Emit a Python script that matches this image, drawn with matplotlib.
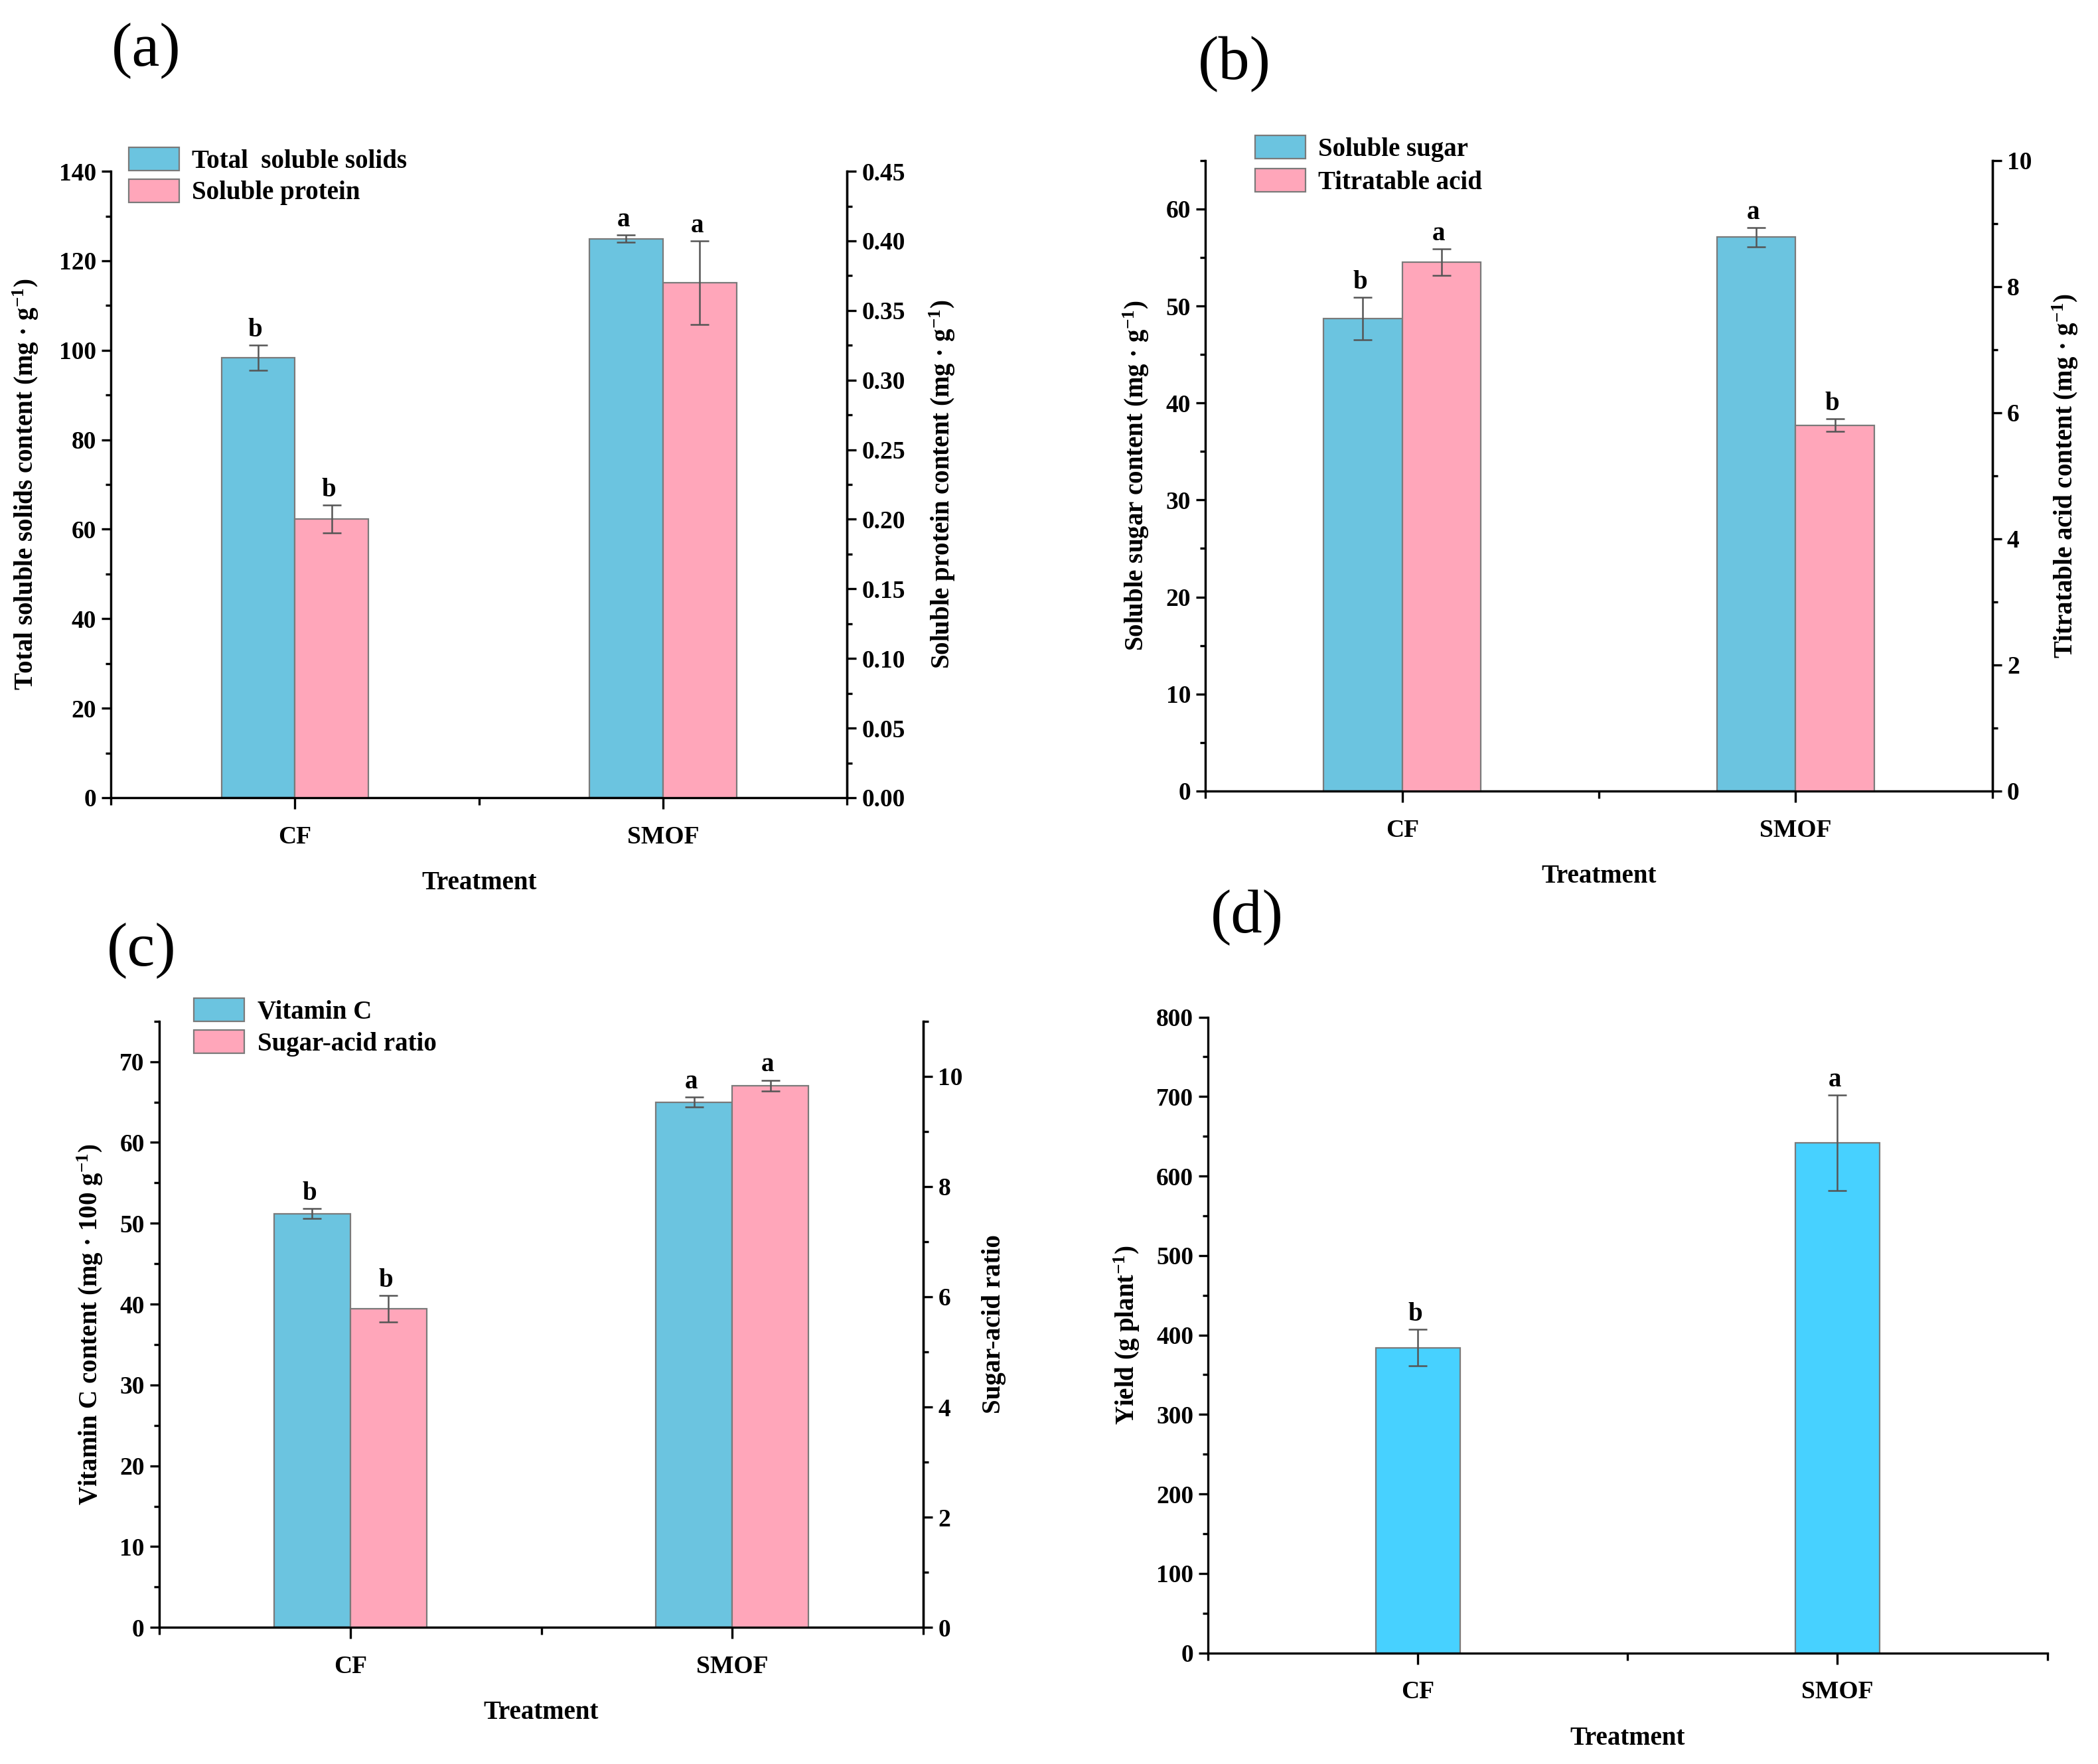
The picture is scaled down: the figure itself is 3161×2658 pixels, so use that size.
import matplotlib
matplotlib.use("Agg")
import matplotlib.pyplot as plt
from matplotlib.ticker import MultipleLocator, FixedLocator
import numpy as np

plt.rcParams['font.family'] = ['Liberation Serif', 'DejaVu Serif']
plt.rcParams['font.weight'] = 'bold'
plt.rcParams['mathtext.fontset'] = 'custom'
plt.rcParams['mathtext.rm'] = 'Liberation Serif:bold'
plt.rcParams['mathtext.bf'] = 'Liberation Serif:bold'
plt.rcParams['mathtext.default'] = 'regular'

# ---------------- data ----------------
treatments = ["CF", "SMOF"]

tss = [98.3, 124.9]
tss_err = [2.8, 0.8]
tss_letters = ["b", "a"]
protein = [0.200, 0.370]
protein_err = [0.010, 0.030]
protein_letters = ["b", "a"]

sugar = [48.7, 57.1]
sugar_err = [2.2, 1.0]
sugar_letters = ["b", "a"]
acid = [8.39, 5.80]
acid_err = [0.21, 0.10]
acid_letters = ["a", "b"]

vitc = [51.2, 65.0]
vitc_err = [0.6, 0.6]
vitc_letters = ["b", "a"]
ratio = [5.78, 9.83]
ratio_err = [0.24, 0.10]
ratio_letters = ["b", "a"]

yield_vals = [384, 642]
yield_err = [23, 60]
yield_letters = ["b", "a"]

BLUE = "#6BC4E0"
PINK = "#FFA6BA"
CYAN = "#47D1FF"
EDGE = "#7a7a7a"
ERR = "#555555"

TICK_FS = 13.5
LAB_FS = 14
LEG_FS = 14
LET_FS = 14
PANEL_FS = 34

fig = plt.figure(figsize=(15.805, 13.29), dpi=200)


def style_axis(ax, has_right=False):
    ax.spines['top'].set_visible(False)
    if not has_right:
        ax.spines['right'].set_visible(False)
    for s in ['left', 'bottom', 'right']:
        ax.spines[s].set_linewidth(1.2)
    ax.set_xlim(-0.5, 1.5)
    ax.set_xticks([0, 1])
    ax.set_xticklabels(treatments)
    ax.xaxis.set_minor_locator(FixedLocator([-0.5, 0.5, 1.5]))
    ax.tick_params(axis='x', which='major', direction='out', length=6, width=1.2,
                   labelsize=TICK_FS, pad=9)
    ax.tick_params(axis='x', which='minor', direction='out', length=4, width=1.2)
    ax.tick_params(axis='y', which='major', direction='out', length=5, width=1.2,
                   labelsize=TICK_FS, pad=3)
    ax.tick_params(axis='y', which='minor', direction='out', length=3, width=1.2)
    for lab in ax.get_xticklabels() + ax.get_yticklabels():
        lab.set_fontweight('bold')
    ax.set_xlabel("Treatment", fontsize=LAB_FS, fontweight='bold', labelpad=12)


def style_right(ax2):
    ax2.spines['top'].set_visible(False)
    ax2.spines['right'].set_linewidth(1.2)
    ax2.tick_params(axis='y', which='major', direction='out', length=5, width=1.2,
                    labelsize=TICK_FS, pad=3)
    ax2.tick_params(axis='y', which='minor', direction='out', length=3, width=1.2)
    for lab in ax2.get_yticklabels():
        lab.set_fontweight('bold')


def bars(ax, x, vals, errs, letters, color, width=0.2):
    ax.bar(x, vals, width=width, color=color, edgecolor=EDGE, linewidth=0.8, zorder=2)
    ax.errorbar(x, vals, yerr=errs, fmt='none', ecolor=ERR, elinewidth=0.9,
                capsize=5, capthick=0.9, zorder=3)
    for xi, v, e, l in zip(x, vals, errs, letters):
        ax.annotate(l, (xi, v + e), xytext=(-1.5, 1.5), textcoords='offset points',
                    ha='center', va='bottom', fontsize=LET_FS, fontweight='bold')


def legend(ax, labels, anchor, spacing=0.2):
    handles = [plt.Rectangle((0, 0), 1, 1, facecolor=BLUE, edgecolor=EDGE, linewidth=0.8),
               plt.Rectangle((0, 0), 1, 1, facecolor=PINK, edgecolor=EDGE, linewidth=0.8)]
    ax.legend(handles, labels, loc='upper left', bbox_to_anchor=anchor,
              frameon=False, borderaxespad=0, borderpad=0,
              handlelength=1.95, handleheight=1.0, handletextpad=0.5,
              labelspacing=spacing, prop={'weight': 'bold', 'size': LEG_FS})


x = np.arange(len(treatments))

# ---------------- (a) ----------------
axa = fig.add_axes([0.0529, 0.5478, 0.3508, 0.3551])
style_axis(axa, has_right=True)
axa.set_ylim(0, 140)
axa.yaxis.set_major_locator(MultipleLocator(20))
axa.yaxis.set_minor_locator(MultipleLocator(10))
bars(axa, x - 0.1, tss, tss_err, tss_letters, BLUE)
axa.set_ylabel("Total soluble solids content (mg · g$^{-1}$)", fontsize=LAB_FS,
               fontweight='bold', labelpad=10)
axa2 = axa.twinx()
style_right(axa2)
axa2.set_ylim(0, 0.45)
axa2.yaxis.set_major_locator(MultipleLocator(0.05))
axa2.yaxis.set_minor_locator(MultipleLocator(0.025))
axa2.yaxis.set_major_formatter(matplotlib.ticker.FormatStrFormatter('%.2f'))
bars(axa2, x + 0.1, protein, protein_err, protein_letters, PINK)
axa2.set_ylabel("Soluble protein content (mg · g$^{-1}$)", fontsize=LAB_FS,
                fontweight='bold', labelpad=12)
for lab in axa2.get_yticklabels():
    lab.set_fontweight('bold')
legend(axa, ["Total  soluble solids", "Soluble protein"], (0.024, 1.038))
fig.text(0.053, 0.971, "(a)", fontsize=PANEL_FS, fontweight='normal', va='center', ha='left')

# ---------------- (b) ----------------
axb = fig.add_axes([0.5746, 0.5516, 0.3750, 0.3574])
style_axis(axb, has_right=True)
axb.set_ylim(0, 65)
axb.yaxis.set_major_locator(MultipleLocator(10))
axb.yaxis.set_minor_locator(MultipleLocator(5))
bars(axb, x - 0.1, sugar, sugar_err, sugar_letters, BLUE)
axb.set_ylabel("Soluble sugar content (mg · g$^{-1}$)", fontsize=LAB_FS,
               fontweight='bold', labelpad=8)
axb2 = axb.twinx()
style_right(axb2)
axb2.set_ylim(0, 10)
axb2.yaxis.set_major_locator(MultipleLocator(2))
axb2.yaxis.set_minor_locator(MultipleLocator(1))
bars(axb2, x + 0.1, acid, acid_err, acid_letters, PINK)
axb2.set_ylabel("Titratable acid content (mg · g$^{-1}$)", fontsize=LAB_FS,
                fontweight='bold', labelpad=10)
for lab in axb2.get_yticklabels():
    lab.set_fontweight('bold')
legend(axb, ["Soluble sugar", "Titratable acid"], (0.063, 1.040), spacing=0.28)
fig.text(0.571, 0.9636, "(b)", fontsize=PANEL_FS, fontweight='normal', va='center', ha='left')

# ---------------- (c) ----------------
axc = fig.add_axes([0.0759, 0.0774, 0.3642, 0.3437])
style_axis(axc, has_right=True)
axc.set_ylim(0, 75)
axc.yaxis.set_major_locator(MultipleLocator(10))
axc.yaxis.set_minor_locator(MultipleLocator(5))
bars(axc, x - 0.1, vitc, vitc_err, vitc_letters, BLUE)
axc.set_ylabel("Vitamin C content (mg · 100 g$^{-1}$)", fontsize=LAB_FS,
               fontweight='bold', labelpad=8)
axc2 = axc.twinx()
style_right(axc2)
axc2.set_ylim(0, 11)
axc2.yaxis.set_major_locator(MultipleLocator(2))
axc2.yaxis.set_minor_locator(MultipleLocator(1))
bars(axc2, x + 0.1, ratio, ratio_err, ratio_letters, PINK)
axc2.set_ylabel("Sugar-acid ratio", fontsize=LAB_FS, fontweight='bold', labelpad=10)
for lab in axc2.get_yticklabels():
    lab.set_fontweight('bold')
legend(axc, ["Vitamin C", "Sugar-acid ratio"], (0.0455, 1.0375))
fig.text(0.051, 0.461, "(c)", fontsize=PANEL_FS, fontweight='normal', va='center', ha='left')

# ---------------- (d) ----------------
axd = fig.add_axes([0.5759, 0.0630, 0.3999, 0.3604])
style_axis(axd, has_right=False)
axd.set_ylim(0, 800)
axd.yaxis.set_major_locator(MultipleLocator(100))
axd.yaxis.set_minor_locator(MultipleLocator(50))
bars(axd, x, yield_vals, yield_err, yield_letters, CYAN)
axd.set_ylabel("Yield (g plant$^{-1}$)", fontsize=LAB_FS, fontweight='bold', labelpad=8)
fig.text(0.577, 0.480, "(d)", fontsize=PANEL_FS, fontweight='normal', va='center', ha='left')

fig.savefig("out.png", dpi=200, facecolor='white')
